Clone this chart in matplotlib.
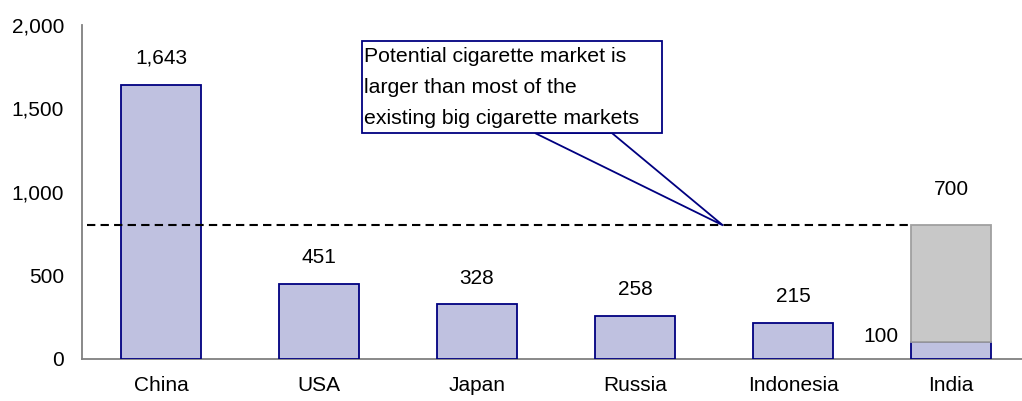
import matplotlib.pyplot as plt
from matplotlib.patches import Polygon, Rectangle

plt.rcParams['font.family'] = ['Liberation Sans', 'DejaVu Sans']

# data
countries = ['China', 'USA', 'Japan', 'Russia', 'Indonesia', 'India']
consumption = [1643, 451, 328, 258, 215, 100]
india_potential = 700
value_labels = ['1,643', '451', '328', '258', '215']
yticks = [0, 500, 1000, 1500, 2000]
note = 'Potential cigarette market is\nlarger than most of the\nexisting big cigarette markets'

BLUE_FILL = '#BFC1E0'
BLUE_EDGE = '#000080'
GREY_FILL = '#C8C8C8'
GREY_EDGE = '#A0A0A0'
FS = 15

fig = plt.figure(figsize=(10.22, 4.01), dpi=100)
# axis runs a bit past the right edge, like the original
ax = fig.add_axes([82/1022, 1 - 359/401, 948/1022, 334/401])

x = list(range(len(countries)))
ax.bar(x, consumption, width=0.51, color=BLUE_FILL, edgecolor=BLUE_EDGE, lw=1.3, zorder=3)
ax.bar(x[-1], india_potential, bottom=consumption[-1], width=0.51,
       color=GREY_FILL, edgecolor=GREY_EDGE, lw=1.3, zorder=3)

ax.set_xlim(-0.5, len(countries) - 0.5)
ax.set_ylim(0, 2000)
ax.set_yticks(yticks)
ax.set_yticklabels([f'{v:,}' for v in yticks])
ax.set_xticks(x)
ax.set_xticklabels(countries)
ax.tick_params(length=0, labelsize=FS, colors='black')
ax.tick_params(axis='y', pad=13)
ax.tick_params(axis='x', pad=12)

for s in ['top', 'right']:
    ax.spines[s].set_visible(False)
for s in ['left', 'bottom']:
    ax.spines[s].set_color('#808080')
    ax.spines[s].set_linewidth(1.3)

for i, lab in enumerate(value_labels):
    ax.annotate(lab, (x[i], consumption[i]), xytext=(0, 12), textcoords='offset points',
                ha='center', va='bottom', fontsize=FS)

total = consumption[-1] + india_potential
ax.annotate(f'{india_potential}', (x[-1], total), xytext=(0, 19), textcoords='offset points',
            ha='center', va='bottom', fontsize=FS)
ax.annotate(f'{consumption[-1]}', (x[-1] - 0.33, consumption[-1]), xytext=(0, 4),
            textcoords='offset points', ha='right', va='center', fontsize=FS)

# dashed benchmark line at India's potential
ax.plot([-0.47, x[-1] - 0.255], [total, total], color='black', ls=(0, (4, 2.5)), lw=1.5, zorder=4)

# callout box with pointer
tip = (3.557, total)
ax.add_patch(Polygon([(2.367, 1353), (2.854, 1353), tip], closed=True, facecolor='white',
                     edgecolor=BLUE_EDGE, lw=1.3, zorder=5))
ax.add_patch(Rectangle((1.272, 1353), 3.17 - 1.272, 1904 - 1353, facecolor='white',
                       edgecolor=BLUE_EDGE, lw=1.3, zorder=6))
ax.text(1.285, 1628, note, ha='left', va='center', fontsize=15.3, linespacing=1.8, zorder=7)

fig.savefig('out.png', dpi=100)
